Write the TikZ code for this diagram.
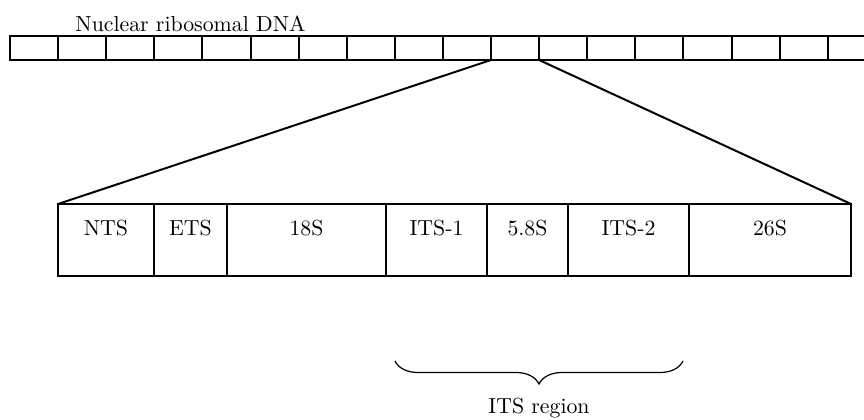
\documentclass[tikz,border=0pt]{standalone}
\usetikzlibrary{positioning,decorations.pathreplacing}
\begin{document}
\begin{tikzpicture}[
  x=0.5pt, y=-0.5pt,
  font=\fontsize{10.9}{13}\selectfont,
  cell/.style={draw, line width=1pt, inner sep=0pt, outer sep=0pt,
               minimum width=24.05pt, minimum height=12pt},
  seg/.style={draw, line width=1pt, inner sep=0pt, outer sep=0pt,
              text height=15.5pt, text depth=20.5pt},
  link/.style={line width=1pt},
  itsbrace/.style={decorate, decoration={brace, mirror, amplitude=11.5pt}, line width=0.6pt}]
\useasboundingbox (0,0) rectangle (864,419);
\clip (0,0) rectangle (864,419);
% repeat units of the rDNA array
\foreach \i in {1,...,18}
  \node[cell] (c\i) at ({10+48.1*(\i-0.5)},48) {};
\node[anchor=base west, inner sep=0pt] (dna) at (75,31.5) {Nuclear ribosomal DNA};
% one repeat unit
\node[seg, minimum width=48pt, anchor=north west] (nts) at (58,204) {NTS};
\node[seg, minimum width=36.5pt, right=0pt of nts] (ets) {ETS};
\node[seg, minimum width=79.5pt, right=0pt of ets] (s18) {18S};
\node[seg, minimum width=50.5pt, right=0pt of s18] (its1) {ITS-1};
\node[seg, minimum width=40.5pt, right=0pt of its1] (s58) {5.8S};
\node[seg, minimum width=60.5pt, right=0pt of s58] (its2) {ITS-2};
\node[seg, minimum width=81pt, right=0pt of its2] (s26) {26S};
% zoom lines
\draw[link] (c10.south east) -- (nts.north west);
\draw[link] (c11.south east) -- (s26.north east);
% ITS brace
\draw[itsbrace] ([xshift=4.5pt, yshift=-42.5pt]its1.south west) -- ([xshift=-3pt, yshift=-42.5pt]its2.south east)
  node[midway, anchor=base, yshift=-26pt] (itsr) {ITS region};
\end{tikzpicture}
\end{document}
